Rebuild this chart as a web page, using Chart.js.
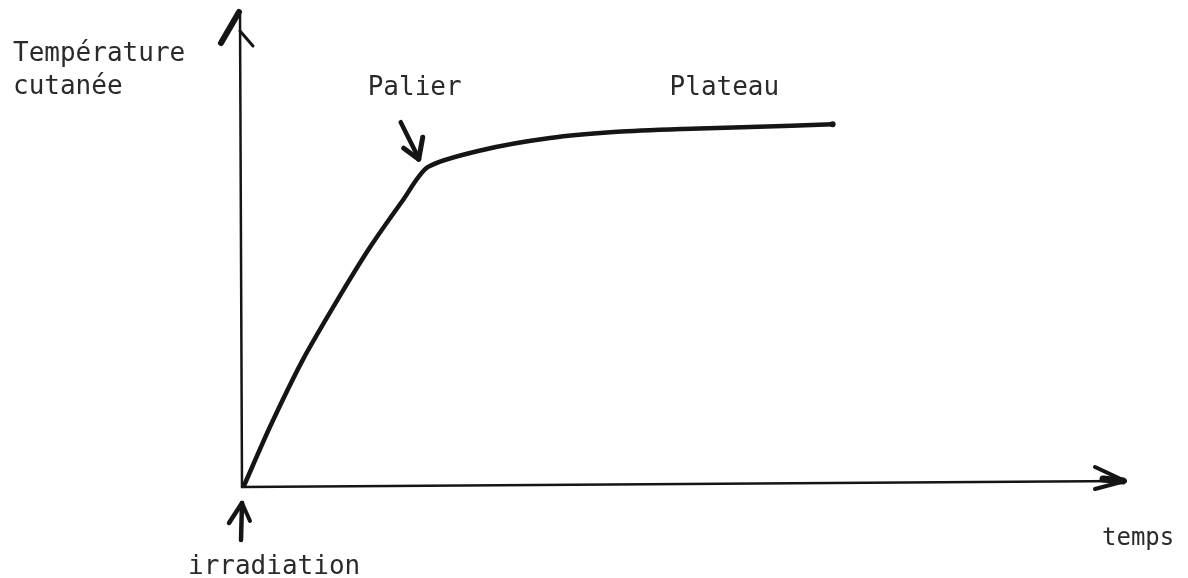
<!DOCTYPE html>
<html>
<head>
<meta charset="utf-8">
<script src="https://cdn.jsdelivr.net/npm/chart.js@4"></script>
<style>
  html, body { margin: 0; padding: 0; background: #fff; }
  #wrap { width: 1188px; height: 578px; }
</style>
</head>
<body>
<div id="wrap"><canvas id="chart"></canvas></div>
<script>
// skin temperature vs time (schematic, arbitrary units 0-100)
const temps = [0.5, 3.5, 7.2, 11.1, 14.8, 18.5, 21.3, 27.5, 35.1, 42.7, 50.1, 57.7, 67.0]
const temperature = [0, 12.6, 26.6, 39.1, 50.2, 60.0, 66.9, 70.5, 73.0, 74.3, 74.9, 75.3, 75.9]

const yTitle = ['Température', 'cutanée']
const xTitle = 'temps'
const marks = ['Palier', 'Plateau']
const startLabel = 'irradiation'

const ink = '#151515'
const font = '26px "DejaVu Sans Mono", monospace'

function stroke(ctx, pts, w) {
  ctx.lineWidth = w
  ctx.beginPath()
  ctx.moveTo(pts[0][0], pts[0][1])
  for (let i = 1; i < pts.length; i++) ctx.lineTo(pts[i][0], pts[i][1])
  ctx.stroke()
}

// axes with hand drawn arrow heads, and the text notes
const sketch = {
  id: 'sketch',
  afterDatasetsDraw(chart) {
    const { ctx, scales } = chart
    const x = scales.x, y = scales.y
    const ox = x.getPixelForValue(0), oy = y.getPixelForValue(0)
    const top = y.getPixelForValue(100), right = x.getPixelForValue(100)
    ctx.save()
    ctx.strokeStyle = ink
    ctx.lineCap = 'round'
    ctx.lineJoin = 'round'

    // y axis
    stroke(ctx, [[ox + 1, top + 3], [ox + 3, oy]], 2.5)
    stroke(ctx, [[ox, top + 3], [ox - 18, top + 34]], 6)
    stroke(ctx, [[ox + 1, top + 22], [ox + 14, top + 37]], 3)

    // x axis
    stroke(ctx, [[ox + 3, oy], [right, oy - 6]], 2.5)
    stroke(ctx, [[right, oy - 6], [right - 30, oy - 20]], 4)
    stroke(ctx, [[right, oy - 6], [right - 30, oy + 2]], 4)
    stroke(ctx, [[right - 2, oy - 6], [right - 22, oy - 8]], 7)

    // end dot of the curve
    const last = temps.length - 1
    ctx.fillStyle = ink
    ctx.beginPath()
    ctx.arc(x.getPixelForValue(temps[last]), y.getPixelForValue(temperature[last]), 3, 0, Math.PI * 2)
    ctx.fill()

    // arrow to the "Palier" knee
    const kx = x.getPixelForValue(temps[6]), ky = y.getPixelForValue(temperature[6])
    stroke(ctx, [[kx - 27, ky - 45], [kx - 9, ky - 9]], 4.5)
    stroke(ctx, [[kx - 24, ky - 19], [kx - 9, ky - 8]], 5)
    stroke(ctx, [[kx - 5, ky - 30], [kx - 9, ky - 8]], 5)

    // arrow pointing up at the origin
    stroke(ctx, [[ox + 3, oy + 16], [ox + 2, oy + 53]], 4.5)
    stroke(ctx, [[ox - 10, oy + 36], [ox + 3, oy + 16]], 4.5)
    stroke(ctx, [[ox + 11, oy + 34], [ox + 3, oy + 16]], 4)

    // text
    ctx.fillStyle = '#2a2a2a'
    ctx.font = font
    ctx.textBaseline = 'alphabetic'
    ctx.textAlign = 'left'
    ctx.fillText(yTitle[0], ox - 226, top + 52)
    ctx.fillText(yTitle[1], ox - 226, top + 85)
    ctx.fillText(marks[0], kx - 60, top + 86)
    ctx.fillText(marks[1], x.getPixelForValue(48.6), top + 86)
    ctx.fillText(startLabel, ox - 51, oy + 87)
    ctx.font = '24px "DejaVu Sans Mono", monospace'
    ctx.fillText(xTitle, right - 23, oy + 58)
    ctx.restore()
  }
}

new Chart(document.getElementById('chart'), {
  type: 'line',
  data: {
    datasets: [{
      data: temps.map((t, i) => ({ x: t, y: temperature[i] })),
      borderColor: ink,
      borderWidth: 4.5,
      borderCapStyle: 'round',
      borderJoinStyle: 'round',
      pointRadius: 0,
      fill: false,
      tension: 0.25
    }]
  },
  options: {
    responsive: true,
    maintainAspectRatio: false,
    animation: false,
    layout: { padding: { left: 239, right: 63, top: 9, bottom: 91 } },
    plugins: { legend: { display: false }, tooltip: { enabled: false } },
    scales: {
      x: { type: 'linear', min: 0, max: 100, display: false },
      y: { type: 'linear', min: 0, max: 100, display: false }
    }
  },
  plugins: [sketch]
})
</script>
</body>
</html>
